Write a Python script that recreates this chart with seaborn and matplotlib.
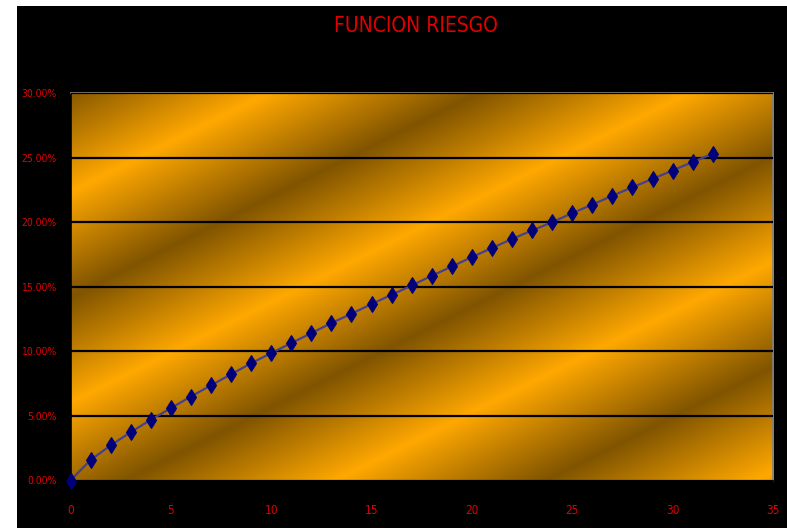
import numpy as np
import pandas as pd
import matplotlib
matplotlib.use("Agg")
import matplotlib.pyplot as plt
from matplotlib.patches import Rectangle
from matplotlib.ticker import FuncFormatter, MultipleLocator
import seaborn as sns

# Risk function values by period
periodos = list(range(33))
riesgo_pct = [0.00, 1.59, 2.72, 3.74, 4.70, 5.60, 6.50, 7.37, 8.22, 9.08,
              9.86, 10.64, 11.41, 12.19, 12.91, 13.66, 14.38, 15.10, 15.85,
              16.57, 17.30, 18.00, 18.70, 19.36, 20.00, 20.70, 21.36, 22.05,
              22.70, 23.35, 24.00, 24.66, 25.30]
titulo = "FUNCION RIESGO"

sns.set_theme(style="white")
plt.rcParams['font.family'] = ['DejaVu Sans']
plt.rcParams['font.stretch'] = 'condensed'

W, H = 787, 528
fig = plt.figure(figsize=(W / 100, H / 100), dpi=100, facecolor="black")
# white margins at left and top of the chart area
fig.patches.append(Rectangle((0, 0), 17 / W, 1, transform=fig.transFigure,
                             facecolor="white", edgecolor="none", zorder=-1))
fig.patches.append(Rectangle((0, 1 - 6 / H), 1, 6 / H, transform=fig.transFigure,
                             facecolor="white", edgecolor="none", zorder=-1))

x0, x1, y0, y1 = 70.5, 773, 93, 480.5
ax = fig.add_axes([x0 / W, 1 - y1 / H, (x1 - x0) / W, (y1 - y0) / H])

# diagonal striped orange/brown fill behind the plot area
nx, ny = int(x1 - x0), int(y1 - y0)
px = x0 + np.arange(nx)[None, :]
py = y0 + np.arange(ny)[:, None]
phase = (py + 0.5 * px - 227) / 210.0
d = phase - np.round(phase)
t = 1 - 2 * np.abs(d)
bright = np.array([255, 168, 0]) / 255
dark = np.array([128, 84, 0]) / 255
img = dark[None, None, :] + (bright - dark)[None, None, :] * t[:, :, None]
ax.imshow(img, extent=[0, 35, 0, 0.30], aspect="auto", origin="upper", zorder=0)

df = pd.DataFrame({"periodo": periodos, "riesgo": np.array(riesgo_pct) / 100})
sns.lineplot(data=df, x="periodo", y="riesgo", ax=ax, color="#45408f",
             linewidth=1.6, marker="d", markersize=8,
             markerfacecolor="#00007a", markeredgecolor="#00007a", zorder=3,
             clip_on=False)

ax.set_xlim(0, 35)
ax.set_ylim(0, 0.30)
ax.xaxis.set_major_locator(MultipleLocator(5))
ax.yaxis.set_major_locator(MultipleLocator(0.05))
ax.yaxis.set_major_formatter(FuncFormatter(lambda v, p: f"{v * 100:.2f}%"))
ax.grid(axis="y", color="black", linewidth=1.6, zorder=1)
ax.set_axisbelow(False)
for gl in ax.get_ygridlines():
    gl.set_zorder(1)
ax.set_xlabel("")
ax.set_ylabel("")
ax.tick_params(axis="y", length=0, pad=10, labelsize=7.5, labelcolor="#e00000")
ax.tick_params(axis="x", length=0, pad=17, labelsize=8.5, labelcolor="#e00000")

for side in ("top", "right"):
    ax.spines[side].set_color("#808080")
    ax.spines[side].set_linewidth(1.2)
for side in ("left", "bottom"):
    ax.spines[side].set_color("black")
    ax.spines[side].set_linewidth(1.2)
    ax.spines[side].set_visible(True)

fig.text(416 / W, 1 - 26 / H, titulo, color="#e00000", fontsize=15,
         ha="center", va="center")

fig.savefig("out.png", dpi=100, facecolor=fig.get_facecolor())
